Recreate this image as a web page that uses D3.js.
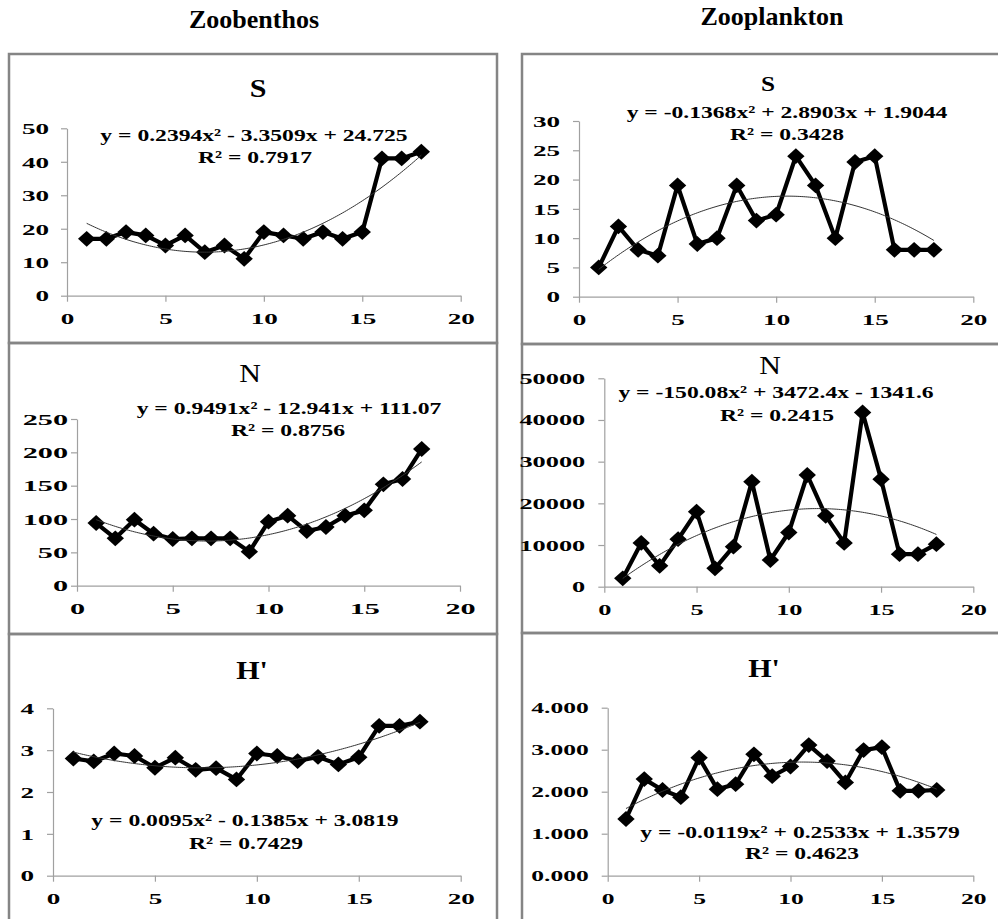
<!DOCTYPE html>
<html>
<head>
<meta charset="utf-8">
<title>Zoobenthos and Zooplankton: S, N, H'</title>
<script src="https://cdn.jsdelivr.net/npm/d3@7"></script>
<style>
    * { margin: 0; padding: 0; }
    body { background: #fff; }
    text { font-family: "Liberation Serif", "Times New Roman", serif; fill: #000; }
</style>
</head>
<body>
<script>
// sampling points on the x axis
var samples = [1, 2, 3, 4, 5, 6, 7, 8, 9, 10, 11, 12, 13, 14, 15, 16, 17, 18];
var xTicks = [0, 5, 10, 15, 20];

// Zoobenthos
var benthosS = [17, 17, 19, 18, 15, 18, 13, 15, 11, 19, 18, 17, 19, 17, 19, 41, 41, 43];
var benthosN = [94, 71, 99, 78, 70, 71, 71, 71, 51, 96, 105, 82, 88, 105, 113, 152, 160, 205];
var benthosH = [2.80, 2.73, 2.92, 2.86, 2.58, 2.82, 2.53, 2.57, 2.30, 2.92, 2.86, 2.74, 2.84, 2.66, 2.83, 3.58, 3.58, 3.68];

// Zooplankton
var planktonS = [5, 12, 8, 7, 19, 9, 10, 19, 13, 14, 24, 19, 10, 23, 24, 8, 8, 8];
var planktonN = [2000, 10500, 5000, 11400, 18000, 4400, 9600, 25200, 6400, 13000, 26800, 17000, 10500, 41800, 25800, 7800, 7800, 10200];
var planktonH = [1.35, 2.30, 2.04, 1.87, 2.81, 2.06, 2.18, 2.89, 2.37, 2.60, 3.11, 2.73, 2.22, 2.99, 3.06, 2.02, 2.02, 2.04];

// polynomial trendline coefficients [a, b, c] for y = a*x^2 + b*x + c
var benthosSFit = [0.2394, -3.3509, 24.725];
var benthosNFit = [0.9491, -12.941, 111.07];
var benthosHFit = [0.0095, -0.1385, 3.0819];
var planktonSFit = [-0.1368, 2.8903, 1.9044];
var planktonNFit = [-150.08, 3472.4, -1341.6];
var planktonHFit = [-0.0119, 0.2533, 1.3579];

// y tick values
var ticksS1 = [0, 10, 20, 30, 40, 50];
var ticksN1 = [0, 50, 100, 150, 200, 250];
var ticksH1 = [0, 1, 2, 3, 4];
var ticksS2 = [0, 5, 10, 15, 20, 25, 30];
var ticksN2 = [0, 10000, 20000, 30000, 40000, 50000];
var ticksH2 = [0, 1, 2, 3, 4];

var width = 998, height = 919;
var font = "'Liberation Serif', 'Times New Roman', serif";

var svg = d3.select("body").append("svg")
    .attr("width", width)
    .attr("height", height);

svg.append("rect").attr("width", width).attr("height", height).attr("fill", "#fff");

// column headings
svg.append("text").attr("x", 254).attr("y", 28).attr("text-anchor", "middle")
    .style("font-size", "26px").style("font-weight", "bold").text("Zoobenthos");
svg.append("text").attr("x", 772).attr("y", 25).attr("text-anchor", "middle")
    .style("font-size", "26px").style("font-weight", "bold").text("Zooplankton");

// panel frames
var frames = [
    [9, 54, 488, 289], [9, 343, 488, 291], [9, 634, 488, 300],
    [522, 54, 500, 290], [522, 344, 500, 289], [522, 633, 500, 300]
];
svg.selectAll(".frame").data(frames).enter().append("rect")
    .attr("class", "frame")
    .attr("x", function(d) { return d[0]; })
    .attr("y", function(d) { return d[1]; })
    .attr("width", function(d) { return d[2]; })
    .attr("height", function(d) { return d[3]; })
    .attr("fill", "none")
    .attr("stroke", "#858585")
    .attr("stroke-width", 2.5);

var panels = [
    { title: "S", bold: true, tsize: 25, tx: 258, ty: 88,
      values: benthosS, fit: benthosSFit, ticks: ticksS1, fmt: d3.format("d"), max: 50,
      x: [67, 460.7], y: [295.7, 128.3], gap: 18, sx: 1.75,
      eq: "y = 0.2394x² - 3.3509x + 24.725", eqx: 254, eqy: 135,
      r2: "R² = 0.7917", rx: 255, ry: 157 },
    { title: "N", bold: false, tsize: 25, tx: 250, ty: 373,
      values: benthosN, fit: benthosNFit, ticks: ticksN1, fmt: d3.format("d"), max: 250,
      x: [77, 460], y: [585.7, 419], gap: 9, sx: 1.95,
      eq: "y = 0.9491x² - 12.941x + 111.07", eqx: 289, eqy: 408,
      r2: "R² = 0.8756", rx: 288, ry: 430 },
    { title: "H'", bold: true, tsize: 25, tx: 252, ty: 670,
      values: benthosH, fit: benthosHFit, ticks: ticksH1, fmt: d3.format("d"), max: 4,
      x: [53, 460.7], y: [875.7, 708.3], gap: 19, sx: 1.75,
      eq: "y = 0.0095x² - 0.1385x + 3.0819", eqx: 245, eqy: 820,
      r2: "R² = 0.7429", rx: 246, ry: 843 },
    { title: "S", bold: true, tsize: 21, tx: 768, ty: 84,
      values: planktonS, fit: planktonSFit, ticks: ticksS2, fmt: d3.format("d"), max: 30,
      x: [579, 973.3], y: [296.7, 121], gap: 19, sx: 1.75,
      eq: "y = -0.1368x² + 2.8903x + 1.9044", eqx: 787, eqy: 112,
      r2: "R² = 0.3428", rx: 787, ry: 134 },
    { title: "N", bold: false, tsize: 25, tx: 770, ty: 365,
      values: planktonN, fit: planktonNFit, ticks: ticksN2, fmt: d3.format("d"), max: 50000,
      x: [604.3, 973.3], y: [586.7, 378.3], gap: 19, sx: 1.7,
      eq: "y = -150.08x² + 3472.4x - 1341.6", eqx: 776, eqy: 392,
      r2: "R² = 0.2415", rx: 777, ry: 415 },
    { title: "H'", bold: true, tsize: 25, tx: 764, ty: 668,
      values: planktonH, fit: planktonHFit, ticks: ticksH2, fmt: d3.format(".3f"), max: 4,
      x: [607.7, 973.3], y: [875.7, 707.7], gap: 19, sx: 1.65,
      eq: "y = -0.0119x² + 0.2533x + 1.3579", eqx: 800, eqy: 832,
      r2: "R² = 0.4623", rx: 802, ry: 853 }
];

// text drawn a little wider than the font, as in the stretched original
function wideText(g, x, y, str, size, sx, weight) {
    return g.append("text")
        .attr("transform", "translate(" + x + "," + y + ") scale(" + sx + ",1)")
        .attr("text-anchor", "middle")
        .attr("dominant-baseline", "central")
        .style("font-size", size + "px")
        .style("font-weight", weight)
        .text(str);
}

panels.forEach(function(p) {
    var g = svg.append("g");

    var xScale = d3.scaleLinear().domain([0, 20]).range(p.x);
    var yScale = d3.scaleLinear().domain([0, p.max]).range(p.y);

    // y axis
    var ya = g.append("g")
        .attr("transform", "translate(" + p.x[0] + ",0)")
        .call(d3.axisLeft(yScale).tickValues(p.ticks).tickFormat(p.fmt).tickSize(6).tickSizeOuter(0));
    ya.selectAll("text")
        .attr("x", null).attr("dy", null)
        .attr("dominant-baseline", "central")
        .attr("transform", "translate(" + (-p.gap) + ",0) scale(" + p.sx + ",1)");

    // x axis
    var xa = g.append("g")
        .attr("transform", "translate(0," + p.y[0] + ")")
        .call(d3.axisBottom(xScale).tickValues(xTicks).tickFormat(d3.format("d")).tickSize(6).tickSizeOuter(0));
    xa.selectAll("text")
        .attr("y", null).attr("dy", null)
        .attr("dominant-baseline", "central")
        .attr("transform", "translate(0,23) scale(" + p.sx + ",1)");

    [ya, xa].forEach(function(a) {
        a.attr("font-family", font).attr("font-size", 15.5).attr("font-weight", "bold");
        a.selectAll("path, line").attr("stroke", "#a0a0a0").attr("stroke-width", 1.2);
        a.selectAll("text").attr("fill", "#000");
    });

    var pts = samples.map(function(s, i) { return [s, p.values[i]]; });

    // data line
    g.append("path")
        .datum(pts)
        .attr("fill", "none")
        .attr("stroke", "#000")
        .attr("stroke-width", 4.2)
        .attr("stroke-linejoin", "round")
        .attr("d", d3.line()
            .x(function(d) { return xScale(d[0]); })
            .y(function(d) { return yScale(d[1]); }));

    // diamond markers
    g.selectAll(".dot")
        .data(pts)
        .enter().append("path")
        .attr("class", "dot")
        .attr("d", d3.symbol(d3.symbolSquare, 125)())
        .attr("transform", function(d) {
            return "translate(" + xScale(d[0]) + "," + yScale(d[1]) + ") scale(1.1,1) rotate(45)";
        })
        .attr("fill", "#000");

    // polynomial trendline from the fitted coefficients
    var fit = p.fit;
    var trend = d3.range(1, 18.001, 0.1).map(function(x) {
        return [x, fit[0] * x * x + fit[1] * x + fit[2]];
    });
    g.append("path")
        .datum(trend)
        .attr("fill", "none")
        .attr("stroke", "#333")
        .attr("stroke-width", 1)
        .attr("d", d3.line()
            .x(function(d) { return xScale(d[0]); })
            .y(function(d) { return yScale(d[1]); }));

    // title, equation, R²
    wideText(g, p.tx, p.ty, p.title, p.tsize, 1.2, p.bold ? "bold" : "normal");
    wideText(g, p.eqx, p.eqy, p.eq, 17.5, 1.35, "bold");
    wideText(g, p.rx, p.ry, p.r2, 17.5, 1.35, "bold");
});
</script>
</body>
</html>
